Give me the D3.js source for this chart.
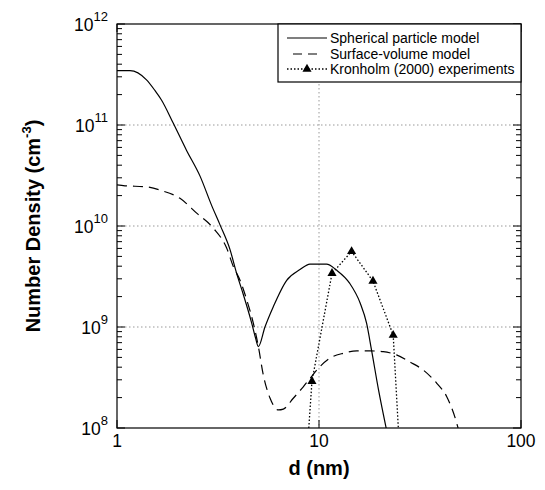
<!DOCTYPE html>
<html>
<head>
<meta charset="utf-8">
<script src="https://cdn.jsdelivr.net/npm/d3@7"></script>
<style>
  body { margin: 0; background: #fff; }
  text { font-family: Arial, "Liberation Sans", sans-serif; }
</style>
</head>
<body>
<div id="chart"></div>
<script>
// spherical particle model (solid)
const sphD = [1, 1.16, 1.4, 1.54, 1.66, 1.9, 2.21, 2.58, 2.94, 3.24, 3.63, 3.91, 4.22, 4.64, 4.85, 5.01,
  5.4, 5.94, 6.92, 8.05, 9.02, 10.9, 12.2, 14.2, 16.0, 17.2, 18.2, 19.7, 21.5];
const sphN = [3.45e11, 3.45e11, 2.8e11, 2.2e11, 1.77e11, 1.04e11, 5.6e10, 3.1e10, 1.6e10, 1.02e10, 5.8e9, 3.4e9, 2.1e9, 1.1e9, 7.8e8, 6.4e8,
  1.0e9, 1.59e9, 2.9e9, 3.7e9, 4.2e9, 4.2e9, 3.66e9, 2.7e9, 1.72e9, 1.09e9, 5.9e8, 2.4e8, 1.0e8];

// surface-volume model (dashed)
const svD = [1, 1.095, 1.376, 1.665, 2.05, 2.48, 3.0, 3.49, 3.77, 4.06, 4.39, 4.73, 5.01, 5.3, 5.72, 6.29, 6.66,
  7.46, 8.36, 9.03, 10.1, 11.3, 13.2, 15.4, 17.9, 20.8, 24.2, 28.2, 32.8, 38.3, 42.9, 48.1, 48.8];
const svN = [2.55e10, 2.5e10, 2.45e10, 2.24e10, 1.88e10, 1.34e10, 9.5e9, 6.05e9, 3.95e9, 2.92e9, 1.85e9, 1.09e9, 6.4e8, 3.35e8, 1.98e8, 1.51e8, 1.54e8,
  1.97e8, 2.56e8, 3.1e8, 4.05e8, 4.9e8, 5.5e8, 5.8e8, 5.8e8, 5.7e8, 5.3e8, 4.5e8, 3.75e8, 2.77e8, 2.04e8, 1.11e8, 1.0e8];

// Kronholm (2000) experiments; first and last entries are where the line leaves the axis
const kronD = [8.9, 9.23, 11.6, 14.5, 18.5, 23.3, 24.7];
const kronN = [1e8, 2.9e8, 3.4e9, 5.6e9, 2.85e9, 8.3e8, 1e8];
const kronMarked = [false, true, true, true, true, true, false];

const xTicks = [1, 10, 100];
const yTicks = [1e8, 1e9, 1e10, 1e11, 1e12];
const yExp = ["8", "9", "10", "11", "12"];
const legendLabels = ["Spherical particle model", "Surface-volume model", "Kronholm (2000) experiments"];

const width = 545, height = 490;
const margin = { left: 117, right: 24, top: 24, bottom: 62 };
const innerW = width - margin.left - margin.right;
const innerH = height - margin.top - margin.bottom;

const svg = d3.select("#chart").append("svg")
  .attr("width", width).attr("height", height);

const x = d3.scaleLog().domain([1, 100]).range([0, innerW]);
const y = d3.scaleLog().domain([1e8, 1e12]).range([innerH, 0]);

const g = svg.append("g").attr("transform", `translate(${margin.left},${margin.top})`);

g.append("clipPath").attr("id", "clip")
  .append("rect").attr("width", innerW).attr("height", innerH);

// gridlines
g.selectAll(".gx").data(xTicks.slice(1, -1)).enter().append("line")
  .attr("x1", (d) => x(d)).attr("x2", (d) => x(d))
  .attr("y1", 0).attr("y2", innerH)
  .attr("stroke", "#999").attr("stroke-dasharray", "1.5,2.5");
g.selectAll(".gy").data(yTicks.slice(1, -1)).enter().append("line")
  .attr("x1", 0).attr("x2", innerW)
  .attr("y1", (d) => y(d)).attr("y2", (d) => y(d))
  .attr("stroke", "#999").attr("stroke-dasharray", "1.5,2.5");

// minor/major y ticks, inside, both sides
const yMinor = [];
for (let e = 8; e < 12; e++) for (let m = 2; m <= 9; m++) yMinor.push(m * Math.pow(10, e));
const tickG = g.append("g").attr("stroke", "#000").attr("stroke-width", 1);
yMinor.forEach((v) => {
  tickG.append("line").attr("x1", 0).attr("x2", 5).attr("y1", y(v)).attr("y2", y(v));
  tickG.append("line").attr("x1", innerW).attr("x2", innerW - 5).attr("y1", y(v)).attr("y2", y(v));
});
yTicks.forEach((v) => {
  tickG.append("line").attr("x1", 0).attr("x2", 8).attr("y1", y(v)).attr("y2", y(v));
  tickG.append("line").attr("x1", innerW).attr("x2", innerW - 8).attr("y1", y(v)).attr("y2", y(v));
});
xTicks.forEach((v) => {
  tickG.append("line").attr("x1", x(v)).attr("x2", x(v)).attr("y1", innerH).attr("y2", innerH - 8);
  tickG.append("line").attr("x1", x(v)).attr("x2", x(v)).attr("y1", 0).attr("y2", 8);
});

// curves
const line = d3.line().x((d) => x(d[0])).y((d) => y(d[1])).curve(d3.curveMonotoneX);
const plot = g.append("g").attr("clip-path", "url(#clip)");

plot.append("path")
  .datum(sphD.map((d, i) => [d, sphN[i]]))
  .attr("fill", "none").attr("stroke", "#000").attr("stroke-width", 1.2)
  .attr("d", line);

plot.append("path")
  .datum(svD.map((d, i) => [d, svN[i]]))
  .attr("fill", "none").attr("stroke", "#000").attr("stroke-width", 1.2)
  .attr("stroke-dasharray", "10,6")
  .attr("d", line);

const kron = kronD.map((d, i) => [d, kronN[i]]);
plot.append("path")
  .datum(kron)
  .attr("fill", "none").attr("stroke", "#000").attr("stroke-width", 1.3)
  .attr("stroke-dasharray", "1.5,2")
  .attr("d", d3.line().x((d) => x(d[0])).y((d) => y(d[1])));

const tri = d3.symbol().type(d3.symbolTriangle).size(36);
plot.selectAll(".tri").data(kron.filter((d, i) => kronMarked[i])).enter().append("path")
  .attr("d", tri)
  .attr("transform", (d) => `translate(${x(d[0])},${y(d[1])})`)
  .attr("fill", "#000");

// frame
g.append("rect").attr("width", innerW).attr("height", innerH)
  .attr("fill", "none").attr("stroke", "#000").attr("stroke-width", 1.2);

// tick labels
g.selectAll(".xl").data(xTicks).enter().append("text")
  .attr("x", (d) => x(d)).attr("y", innerH + 19)
  .attr("text-anchor", "middle").attr("font-size", 17.5)
  .text((d) => d);

const yl = g.selectAll(".yl").data(yTicks).enter().append("text")
  .attr("x", -9).attr("y", (d) => y(d) + 7)
  .attr("text-anchor", "end").attr("font-size", 17.5);
yl.append("tspan").text("10");
yl.append("tspan").attr("dy", -10).attr("font-size", 13).text((d, i) => yExp[i]);

// axis titles
g.append("text")
  .attr("x", innerW / 2).attr("y", innerH + 47)
  .attr("text-anchor", "middle").attr("font-size", 20).attr("font-weight", "bold")
  .text("d (nm)");

const yt = svg.append("text")
  .attr("transform", `translate(40,${margin.top + innerH / 2}) rotate(-90)`)
  .attr("text-anchor", "middle").attr("font-size", 20).attr("font-weight", "bold");
yt.append("tspan").text("Number Density (cm");
yt.append("tspan").attr("dy", -9).attr("font-size", 13).text("-3");
yt.append("tspan").attr("dy", 9).text(")");

// legend
const lg = g.append("g").attr("transform", `translate(${innerW - 243},0)`);
lg.append("rect").attr("width", 243).attr("height", 58)
  .attr("fill", "#fff").attr("stroke", "#000").attr("stroke-width", 1.2);
const rowY = [14, 30, 45];
const dashes = [null, "9,6", "1.5,2"];
legendLabels.forEach((lab, i) => {
  lg.append("line").attr("x1", i === 1 ? 15 : 9).attr("x2", i === 1 ? 40 : 49)
    .attr("y1", rowY[i]).attr("y2", rowY[i])
    .attr("stroke", "#000").attr("stroke-width", i === 2 ? 1.3 : 1.2)
    .attr("stroke-dasharray", dashes[i]);
  lg.append("text").attr("x", 52).attr("y", rowY[i] + 5)
    .attr("font-size", 14).text(lab);
});
lg.append("path").attr("d", tri).attr("transform", `translate(29,${rowY[2]})`).attr("fill", "#000");
</script>
</body>
</html>
